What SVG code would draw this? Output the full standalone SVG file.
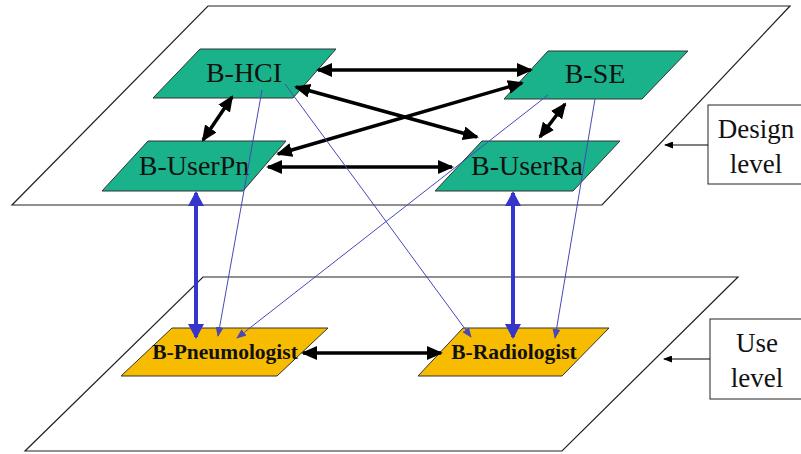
<svg xmlns="http://www.w3.org/2000/svg" width="801" height="454" viewBox="0 0 801 454">
<style>
.plane{fill:#fff;stroke:#222;stroke-width:1.2}
.green{fill:#1AB28A;stroke:#333;stroke-width:1}
.yellow{fill:#F7BC00;stroke:#333;stroke-width:1}
.lbl{font-family:"Liberation Serif","Times New Roman",serif;font-size:28px;fill:#111;text-anchor:middle}
.lblb{font-family:"Liberation Serif","Times New Roman",serif;font-size:21.5px;font-weight:bold;fill:#111;text-anchor:middle}
.side{font-family:"Liberation Serif","Times New Roman",serif;font-size:27px;fill:#111;text-anchor:middle}
.box{fill:#fff;stroke:#222;stroke-width:1}
.blk{stroke:#000;stroke-width:3.5;fill:none;marker-start:url(#ab);marker-end:url(#ab)}
.blu{stroke:#3535CC;stroke-width:4;fill:none;marker-start:url(#au);marker-end:url(#au)}
.thin{stroke:#4848B8;stroke-width:1;fill:none;marker-end:url(#at)}
.ptr{stroke:#000;stroke-width:1;fill:none;marker-end:url(#ap)}
</style>
<defs>
<marker id="ab" markerUnits="userSpaceOnUse" markerWidth="17" markerHeight="14" refX="14" refY="7" orient="auto-start-reverse"><path d="M0,0 L16,7 L0,14 z" fill="#000"/></marker>
<marker id="au" markerUnits="userSpaceOnUse" markerWidth="16" markerHeight="16" refX="13" refY="8" orient="auto-start-reverse"><path d="M0,0 L15,8 L0,16 z" fill="#3535CC"/></marker>
<marker id="at" markerUnits="userSpaceOnUse" markerWidth="10" markerHeight="8" refX="9" refY="4" orient="auto"><path d="M0,0 L10,4 L0,8 z" fill="#4848B8"/></marker>
<marker id="ap" markerUnits="userSpaceOnUse" markerWidth="9" markerHeight="7" refX="8" refY="3.5" orient="auto"><path d="M0,0 L9,3.5 L0,7 z" fill="#000"/></marker>
</defs>
<g id="design-plane"><polygon class="plane" points="208,6 790,6 602,205 12,205"/></g>
<g id="use-plane"><polygon class="plane" points="203,277 738,277 562,451 25,451"/></g>
<g id="design-level"><rect class="box" x="708" y="105" width="100" height="79"/><text class="side" x="756" y="138">Design</text><text class="side" x="756" y="173">level</text></g>
<g id="use-level"><rect class="box" x="710" y="319" width="100" height="80"/><text class="side" x="757" y="352">Use</text><text class="side" x="757" y="387">level</text></g>
<g id="b-hci"><polygon class="green" points="200,49 336,49 293,98 153,98"/><text class="lbl" x="244" y="82">B-HCI</text></g>
<g id="b-se"><polygon class="green" points="548,51 688,51 642,99 504,99"/><text class="lbl" x="595" y="83">B-SE</text></g>
<g id="b-userpn"><polygon class="green" points="148,141 286,141 243,191 102,191"/><text class="lbl" x="194" y="175">B-UserPn</text></g>
<g id="b-userra"><polygon class="green" points="482,141 620,141 573,191 435,191"/><text class="lbl" x="527" y="175">B-UserRa</text></g>
<g id="b-pneumologist"><polygon class="yellow" points="172,328 328,328 277,376 121,376"/><text class="lblb" x="225" y="359">B-Pneumologist</text></g>
<g id="b-radiologist"><polygon class="yellow" points="463,328 609,328 562,376 418,376"/><text class="lblb" x="514" y="359">B-Radiologist</text></g>
<g id="connectors">
<line class="blk" x1="318" y1="70" x2="531" y2="70"/>
<line class="blk" x1="296" y1="87" x2="477" y2="137"/>
<line class="blk" x1="278" y1="154" x2="522" y2="83"/>
<line class="blk" x1="268" y1="167" x2="452" y2="167"/>
<line class="blk" x1="232" y1="97" x2="203" y2="140"/>
<line class="blk" x1="565" y1="104" x2="540" y2="137"/>
<line class="blk" x1="303" y1="353" x2="441" y2="353"/>
<line class="blu" x1="196" y1="193" x2="196" y2="337"/>
<line class="blu" x1="513" y1="193" x2="513" y2="337"/>
<line class="thin" x1="262" y1="90" x2="218" y2="336"/>
<line class="thin" x1="285" y1="84" x2="471" y2="337"/>
<line class="thin" x1="548" y1="95" x2="237" y2="338"/>
<line class="thin" x1="595" y1="99" x2="555" y2="338"/>
<line class="ptr" x1="708" y1="145" x2="665" y2="145"/>
<line class="ptr" x1="710" y1="359" x2="664" y2="359"/>
</g>
</svg>
